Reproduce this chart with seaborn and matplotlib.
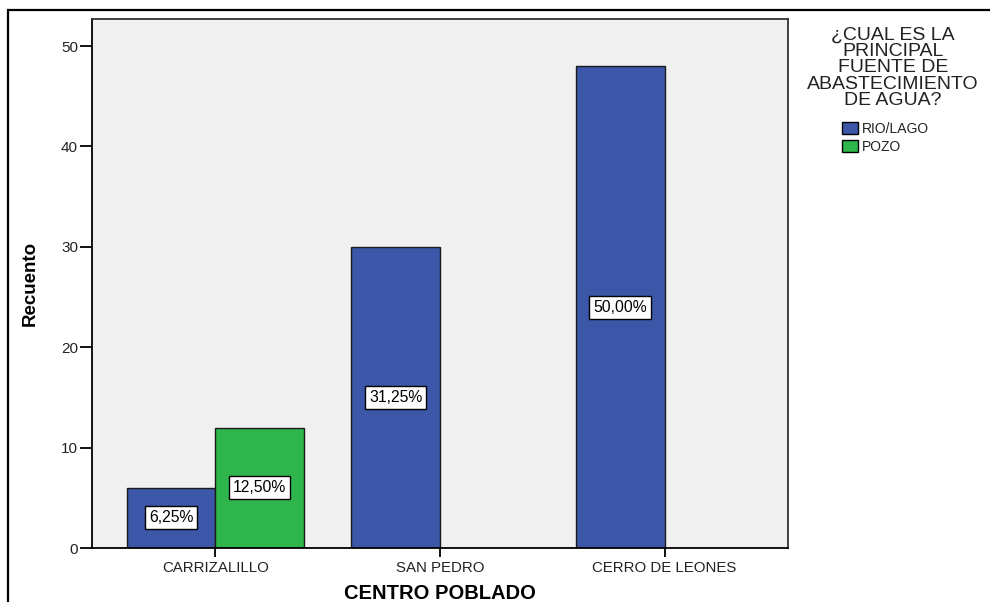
import numpy as np
import pandas as pd
import matplotlib
matplotlib.use("Agg")
import matplotlib.pyplot as plt
from matplotlib.patches import Rectangle, Patch
import seaborn as sns

# Counts of households by settlement and main water source
centros = ["CARRIZALILLO", "SAN PEDRO", "CERRO DE LEONES"]
fuentes = ["RIO/LAGO", "POZO"]
rio_lago = [6, 30, 48]
pozo = [12, 0, 0]
y_ticks = [0, 10, 20, 30, 40, 50]
titulo_leyenda = "¿CUAL ES LA\nPRINCIPAL\nFUENTE DE\nABASTECIMIENTO\nDE AGUA?"

colores = {"RIO/LAGO": "#3C56A8", "POZO": "#2EB54B"}

rows = []
for c, r, p in zip(centros, rio_lago, pozo):
    if r > 0:
        rows.append({"centro": c, "fuente": "RIO/LAGO", "n": r})
    if p > 0:
        rows.append({"centro": c, "fuente": "POZO", "n": p})
df = pd.DataFrame(rows)
total = sum(rio_lago) + sum(pozo)

sns.set_theme(style="white")
plt.rcParams["font.family"] = ["Liberation Sans", "DejaVu Sans"]

W, H = 990, 602
fig = plt.figure(figsize=(W / 100, H / 100), dpi=100)
fig.patch.set_facecolor("white")

# outer chart frame
fig.patches.append(Rectangle((8 / W, -0.1), 1.2, 1 - 10 / H + 0.1,
                             transform=fig.transFigure, fill=False,
                             edgecolor="black", linewidth=1.6, zorder=0))

left, right, top, bottom = 92, 788, 19, 548
ax = fig.add_axes([left / W, 1 - bottom / H, (right - left) / W, (bottom - top) / H])
ax.set_facecolor("#F0F0F0")

sns.barplot(data=df, x="centro", y="n", hue="fuente", order=centros,
            hue_order=fuentes, palette=colores, width=0.79, dodge=True,
            edgecolor="#1a1a1a", linewidth=1.0, saturation=1, errorbar=None,
            legend=False, ax=ax)

for cont in ax.containers:
    labels = [f"{b.get_height() / total * 100:.2f}%".replace(".", ",") for b in cont]
    ax.bar_label(cont, labels=labels, label_type="center", fontsize=11.3,
                 color="black",
                 bbox=dict(boxstyle="square,pad=0.25", fc="white", ec="black", lw=1.0))

ax.set_xlim(-0.55, 2.55)
ax.set_ylim(0, 52.7)
ax.set_yticks(y_ticks)
ax.set_yticklabels([str(t) for t in y_ticks])

for s in ax.spines.values():
    s.set_color("#333333")
    s.set_linewidth(1.3)
    s.set_visible(True)
ax.spines["left"].set_color("black")
ax.spines["bottom"].set_color("black")

ax.tick_params(axis="y", direction="out", length=9, width=1.3, color="black",
               labelsize=11, labelcolor="#222222", left=True, pad=1)
ax.tick_params(axis="x", direction="out", length=6.5, width=1.3, color="black",
               labelsize=10.8, labelcolor="#222222", bottom=True, pad=3)

ax.set_xlabel("CENTRO POBLADO", fontsize=14.5, fontweight="bold", labelpad=6,
              color="black")
ax.set_ylabel("Recuento", fontsize=13.5, fontweight="bold", labelpad=16,
              color="black")

# legend: centred multi-line title, then the two colour keys
fig.text(893 / W, 1 - 68 / H, titulo_leyenda, ha="center", va="center",
         multialignment="center", fontsize=14, linespacing=0.96,
         color="#222222")

handles = [Patch(facecolor=colores[f], edgecolor="black", linewidth=1.0) for f in fuentes]
leg = fig.legend(handles, fuentes, loc="upper left",
                 bbox_to_anchor=(842 / W, 1 - 122 / H),
                 frameon=False, fontsize=10,
                 handlelength=1.15, handleheight=1.0, handletextpad=0.3,
                 labelspacing=0.28, borderpad=0.0, borderaxespad=0.0)
for t in leg.get_texts():
    t.set_color("#222222")

fig.savefig("out.png", dpi=100)
